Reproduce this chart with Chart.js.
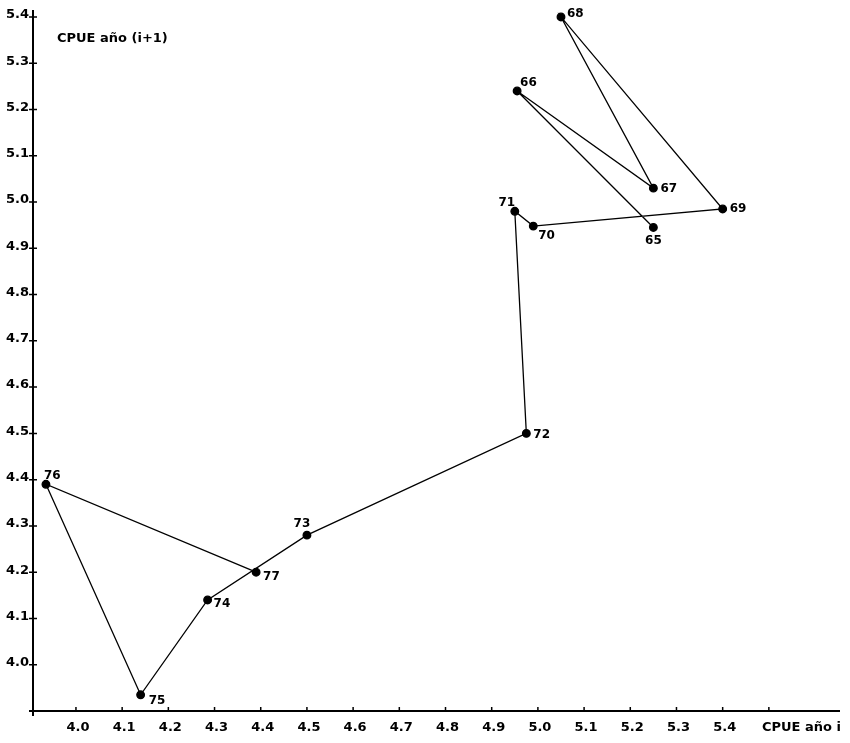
<!DOCTYPE html>
<html>
<head>
<meta charset="utf-8">
<script src="https://cdn.jsdelivr.net/npm/chart.js@4.4.1/dist/chart.umd.min.js"></script>
<style>
  html, body { margin: 0; padding: 0; background: #fff; }
  #wrap { width: 850px; height: 743px; }
</style>
</head>
<body>
<div id="wrap"><canvas id="chart" width="850" height="743"></canvas></div>
<script>
// year labels and CPUE values
var years = ['65', '66', '67', '68', '69', '70', '71', '72', '73', '74', '75', '76', '77'];
var cpueYear = [5.25, 4.955, 5.25, 5.05, 5.40, 4.99, 4.95, 4.975, 4.50, 4.285, 4.14, 3.935, 4.39];
var cpueNextYear = [4.945, 5.24, 5.03, 5.40, 4.985, 4.948, 4.98, 4.50, 4.28, 4.14, 3.935, 4.39, 4.20];
var xTicks = [4.0, 4.1, 4.2, 4.3, 4.4, 4.5, 4.6, 4.7, 4.8, 4.9, 5.0, 5.1, 5.2, 5.3, 5.4];
var yTicks = [4.0, 4.1, 4.2, 4.3, 4.4, 4.5, 4.6, 4.7, 4.8, 4.9, 5.0, 5.1, 5.2, 5.3, 5.4];

// where each year label sits relative to its point (dx, dy, align)
var labelSpots = {
  '65': [0, 13, 'center'], '66': [3, -8, 'left'], '67': [7, 1, 'left'],
  '68': [6, -3, 'left'], '69': [7, 0, 'left'], '70': [5, 10, 'left'],
  '71': [-8, -8, 'center'], '72': [7, 1, 'left'], '73': [-5, -11, 'center'],
  '74': [6, 4, 'left'], '75': [8, 6, 'left'], '76': [-2, -8, 'left'],
  '77': [7, 5, 'left']
};

var FONT = 'bold 13px "DejaVu Sans", sans-serif';
var LABEL_FONT = 'bold 12px "DejaVu Sans", sans-serif';

var points = [];
for (var i = 0; i < years.length; i++) {
  points.push({ x: cpueYear[i], y: cpueNextYear[i] });
}

var axesPlugin = {
  id: 'axesPlugin',
  afterDraw: function (chart) {
    var ctx = chart.ctx;
    var xs = chart.scales.x;
    var ys = chart.scales.y;
    var area = chart.chartArea;
    ctx.save();
    ctx.strokeStyle = '#000';
    ctx.fillStyle = '#000';

    // axis lines
    ctx.lineWidth = 2;
    ctx.beginPath();
    ctx.moveTo(area.left, area.top);
    ctx.lineTo(area.left, area.bottom + 5);
    ctx.moveTo(area.left - 4, area.bottom);
    ctx.lineTo(area.right, area.bottom);
    ctx.stroke();

    // tick marks crossing the axes
    ctx.lineWidth = 1.5;
    ctx.beginPath();
    yTicks.forEach(function (v) {
      var py = ys.getPixelForValue(v);
      ctx.moveTo(area.left - 4, py);
      ctx.lineTo(area.left + 4, py);
    });
    xTicks.concat([5.5]).forEach(function (v) {
      var px = xs.getPixelForValue(v);
      ctx.moveTo(px, area.bottom - 4);
      ctx.lineTo(px, area.bottom + 1);
    });
    ctx.stroke();

    // tick labels
    ctx.font = FONT;
    ctx.textBaseline = 'middle';
    ctx.textAlign = 'right';
    yTicks.forEach(function (v) {
      ctx.fillText(v.toFixed(1), area.left - 4, ys.getPixelForValue(v) - 2);
    });
    ctx.textAlign = 'center';
    xTicks.forEach(function (v) {
      ctx.fillText(v.toFixed(1), xs.getPixelForValue(v) + 2, area.bottom + 17);
    });

    // axis titles
    ctx.textAlign = 'left';
    ctx.fillText('CPUE año (i+1)', area.left + 24, area.top + 29);
    ctx.fillText('CPUE año i', 762, area.bottom + 17);

    // year labels
    var meta = chart.getDatasetMeta(0);
    ctx.font = LABEL_FONT;
    meta.data.forEach(function (el, i) {
      var s = labelSpots[years[i]];
      ctx.textAlign = s[2];
      ctx.fillText(years[i], el.x + s[0], el.y + s[1]);
    });
    ctx.restore();
  }
};

new Chart(document.getElementById('chart'), {
  type: 'scatter',
  data: {
    datasets: [{
      data: points,
      showLine: true,
      borderColor: '#000',
      borderWidth: 1.3,
      backgroundColor: '#000',
      pointRadius: 3.8,
      pointHoverRadius: 3.8,
      tension: 0
    }]
  },
  options: {
    responsive: false,
    animation: false,
    layout: { padding: { left: 0, right: 10, top: 10, bottom: 0 } },
    plugins: { legend: { display: false }, tooltip: { enabled: false } },
    scales: {
      x: {
        type: 'linear',
        min: 3.907,
        max: 5.654,
        grid: { display: false },
        border: { display: false },
        ticks: { display: false },
        afterFit: function (scale) { scale.height = 32; }
      },
      y: {
        type: 'linear',
        min: 3.9,
        max: 5.415,
        grid: { display: false },
        border: { display: false },
        ticks: { display: false },
        afterFit: function (scale) { scale.width = 33; }
      }
    }
  },
  plugins: [axesPlugin]
});
</script>
</body>
</html>
